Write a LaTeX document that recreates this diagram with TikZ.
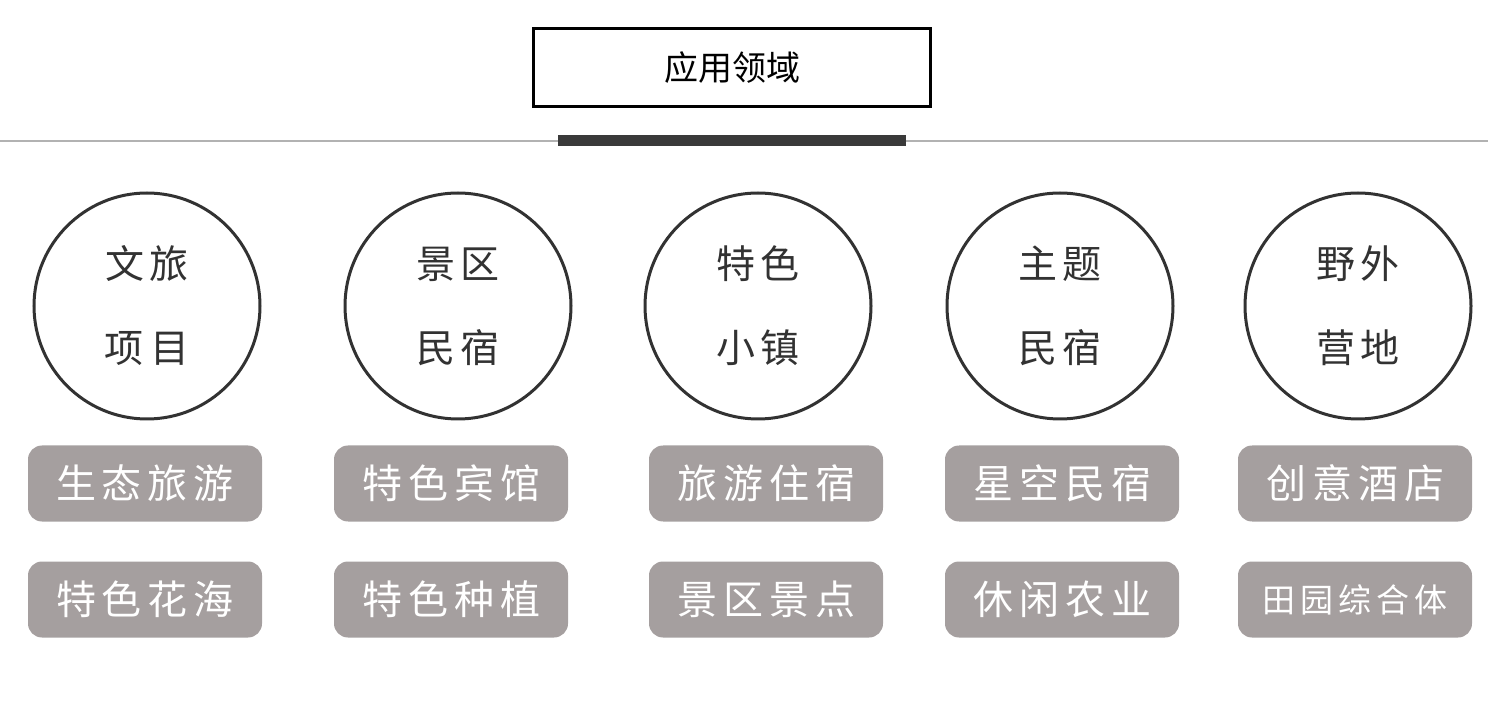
\documentclass[tikz,border=0pt]{standalone}
\usepackage{fontspec}
\usepackage{xcolor}
\newfontfamily\cjk{Noto Sans CJK SC}
\newfontfamily\cjkwide[LetterSpace=15]{Noto Sans CJK SC}
\definecolor{ink}{RGB}{50,50,50}
\definecolor{tagfill}{RGB}{165,159,159}
\definecolor{rulegray}{RGB}{178,178,178}
\definecolor{bardark}{RGB}{58,58,58}

\begin{document}
\begin{tikzpicture}[x=1pt,y=-1pt,
    ring/.style={draw=ink,line width=3pt,circle,minimum size=226pt,inner sep=0pt,
      align=center,text=ink,font=\cjkwide\fontsize{39}{84}\selectfont},
    tag/.style={fill=tagfill,rounded corners=14pt,minimum width=234pt,
      minimum height=76pt,inner sep=0pt,text=white,
      font=\cjkwide\fontsize{40}{42}\selectfont}]
  \useasboundingbox (0,0) rectangle (1500,708);
  % heading and rule
  \node[draw=black,line width=2.5pt,minimum width=397pt,minimum height=78pt,
    inner sep=0pt,font=\cjk\fontsize{34}{36}\selectfont] (head) at (732,67.5) {应用领域};
  \draw[rulegray,line width=2pt] (0,141) -- (1488,141);
  \fill[bardark] (558,135) rectangle (906,146);
  % the five fields
  \node[ring] (wl) at (147,306) {文旅\\项\,目};
  \node[ring] (jq) at (458,306) {景区\\民宿};
  \node[ring] (ts) at (758,306) {特色\\小镇};
  \node[ring] (zt) at (1060,306) {主题\\民宿};
  \node[ring] (yw) at (1358,306) {野外\\营地};
  % tags under each field
  \node[tag] (wl1) at (145,483.5) {生态旅游};
  \node[tag] (wl2) at (145,599.5) {特色花海};
  \node[tag] (jq1) at (451,483.5) {特色宾馆};
  \node[tag] (jq2) at (451,599.5) {特色种植};
  \node[tag] (ts1) at (766,483.5) {旅游住宿};
  \node[tag] (ts2) at (766,599.5) {景区景点};
  \node[tag] (zt1) at (1062,483.5) {星空民宿};
  \node[tag] (zt2) at (1062,599.5) {休闲农业};
  \node[tag] (yw1) at (1355,483.5) {创意酒店};
  \node[tag,font=\cjkwide\fontsize{33}{35}\selectfont] (yw2) at (1355,599.5) {田园综合体};
\end{tikzpicture}
\end{document}
